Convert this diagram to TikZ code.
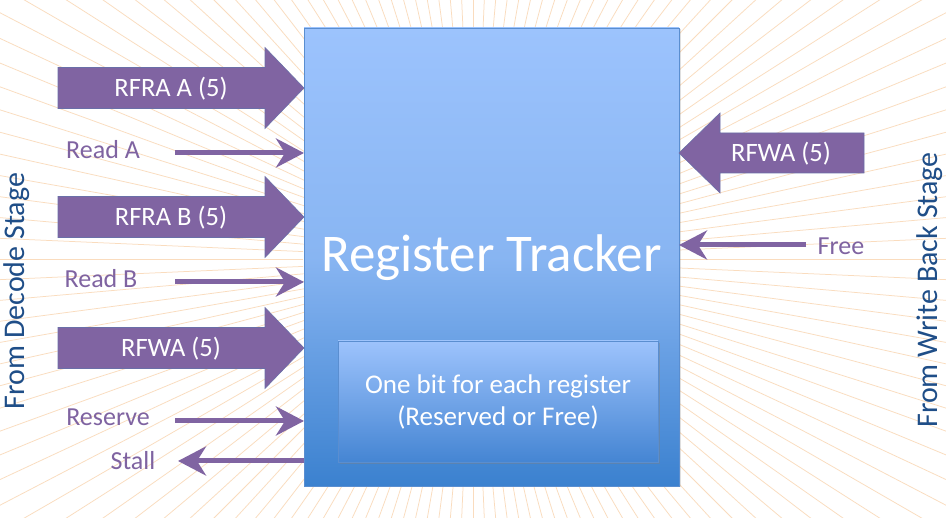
\documentclass[tikz,border=0pt]{standalone}
\usepackage{fontspec}
\setmainfont{Carlito}
\usetikzlibrary{arrows.meta,shadows,calc}
\definecolor{purp}{HTML}{8064A2}
\definecolor{purpedge}{HTML}{6A6FA8}
\definecolor{labpurp}{HTML}{7F63A1}
\definecolor{stageblue}{HTML}{1F4E88}
\definecolor{raycol}{HTML}{FADCBE}
\definecolor{boxtop}{HTML}{9CC3FD}
\definecolor{boxmid}{HTML}{88B5F2}
\definecolor{boxbot}{HTML}{3B81CF}
\definecolor{boxedge}{HTML}{5A8ED0}
\definecolor{intop}{HTML}{9DC3FC}
\definecolor{inbot}{HTML}{4585D3}
\newcommand{\RightFat}[3]{%
  \filldraw[fatarrow] (#1,#3-20.5) -- (#2,#3-20.5) -- (#2,#3-40.5) -- (rt.west |- 0,#3)
    -- (#2,#3+40.5) -- (#2,#3+20.5) -- (#1,#3+20.5) -- cycle;}
\newcommand{\LeftFat}[3]{%
  \filldraw[fatarrow] (#1,#3-20) -- (#2,#3-20) -- (#2,#3-40) -- (rt.east |- 0,#3)
    -- (#2,#3+40) -- (#2,#3+20) -- (#1,#3+20) -- cycle;}
\begin{document}
\begin{tikzpicture}[x=1pt,y=-1pt,
  every node/.style={inner sep=0pt, outer sep=0pt},
  tracker/.style={draw=boxedge, line width=0.8pt, shading=axis, top color=boxtop,
    bottom color=boxbot, middle color=boxmid, minimum width=375pt, minimum height=458pt,
    drop shadow={shadow xshift=1.5pt, shadow yshift=-1.5pt, opacity=0.25}},
  bitsbox/.style={draw=boxedge, line width=0.8pt, shading=axis, top color=intop,
    bottom color=inbot, minimum width=320pt, minimum height=121pt,
    drop shadow={shadow xshift=1.5pt, shadow yshift=-2.5pt, opacity=0.4}},
  fatarrow/.style={fill=purp, draw=purpedge, line width=0.6pt},
  fatlabel/.style={text=white, font=\fontsize{26.5}{30}\selectfont},
  thinarrow/.style={draw=purp, line width=5pt, -{Stealth[length=28pt,width=29pt,inset=9pt]}},
  siglabel/.style={text=labpurp, font=\fontsize{26}{30}\selectfont},
  stagelabel/.style={text=stageblue, font=\fontsize{30}{34}\selectfont, rotate=90}
]
\useasboundingbox (0,0) rectangle (946,518);
\fill[white] (0,0) rectangle (946,518);
\begin{scope}
  \clip (0,0) rectangle (946,518);
  \foreach \a in {0,2.5,...,357.5}
    \draw[raycol, line width=0.75pt] (473,259) ++(\a:170) -- ++(\a:650);
\end{scope}

% main block
\node[tracker] (rt) at (491.5,257) {};
\node[text=white, font=\fontsize{53}{60}\selectfont] (title) at (491.5,258) {Register Tracker};
\node[bitsbox] (bits) at (498,401.5) {};
\node[text=white, align=center, font=\fontsize{27}{32}\selectfont] (bitstext) at (498,402)
  {One bit for each register\\(Reserved or Free)};

% fat arrows (left)
\RightFat{58}{265}{88}
\node[fatlabel] (rfraA) at (171,89) {RFRA A (5)};
\RightFat{58}{265}{217}
\node[fatlabel] (rfraB) at (171,218) {RFRA B (5)};
\RightFat{58}{265}{348}
\node[fatlabel] (rfwaL) at (171,349) {RFWA (5)};

% fat arrow (right)
\LeftFat{864}{720}{153}
\node[fatlabel] (rfwaR) at (781,154) {RFWA (5)};

% thin arrows
\coordinate (ra) at (175,153);
\coordinate (rb) at (175,282);
\coordinate (rs) at (175,421);
\coordinate (st) at (178,461);
\coordinate (fr) at (806,245);
\draw[thinarrow] (ra) -- (ra -| rt.west);
\draw[thinarrow] (rb) -- (rb -| rt.west);
\draw[thinarrow] (rs) -- (rs -| rt.west);
\draw[thinarrow] (st -| rt.west) -- (st);
\draw[thinarrow] (fr) -- (fr -| rt.east);

\node[siglabel] (lra) at (103,150) {Read A};
\node[siglabel] (lrb) at (101,279) {Read B};
\node[siglabel] (lrs) at (108,417) {Reserve};
\node[siglabel] (lst) at (133,461) {Stall};
\node[siglabel] (lfr) at (841,246) {Free};

% stage labels
\node[stagelabel] (dec) at (17,291) {From Decode Stage};
\node[stagelabel] (wb) at (930,290) {From Write Back Stage};
\end{tikzpicture}
\end{document}
